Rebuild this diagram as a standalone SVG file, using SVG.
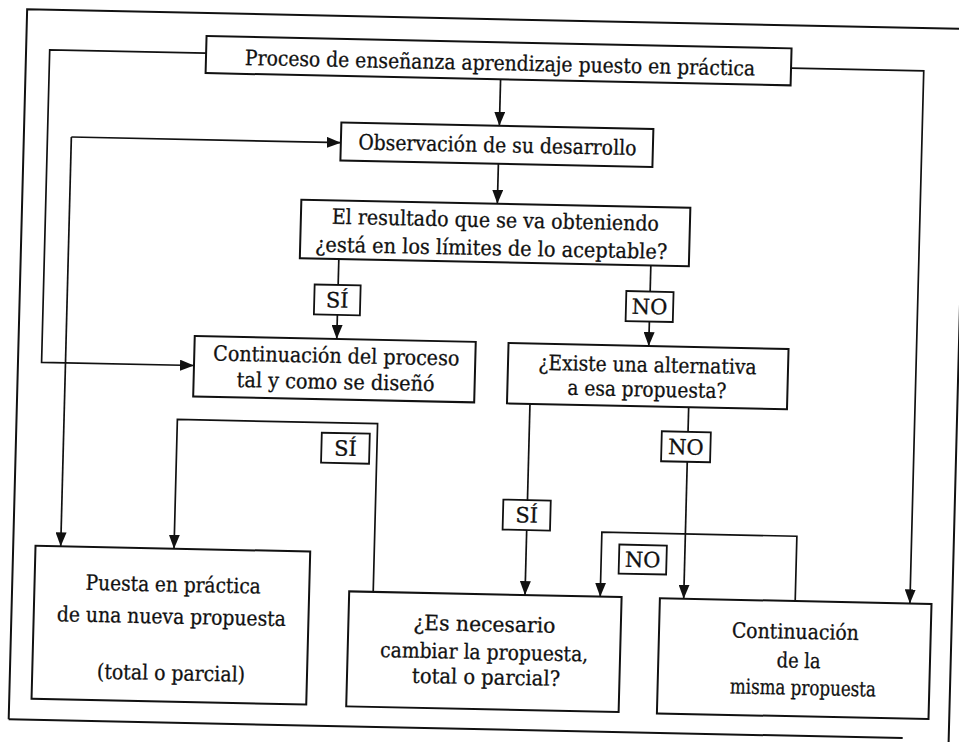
<svg xmlns="http://www.w3.org/2000/svg" width="959" height="742" viewBox="0 0 959 742">
<style>
.box{fill:#fff;stroke:#111;stroke-width:2}
.lab{fill:#fff;stroke:#111;stroke-width:1.8}
.ln{fill:none;stroke:#111;stroke-width:1.7}
.fr{fill:none;stroke:#111;stroke-width:2}
text{font-family:"DejaVu Serif","Liberation Serif",serif;font-size:21px;fill:#111;stroke:#111;stroke-width:0.3;text-anchor:middle}
</style>
<defs>
<marker id="ah" markerUnits="userSpaceOnUse" markerWidth="14" markerHeight="11" refX="14" refY="5.5" orient="auto">
<path d="M0,0 L14,5.5 L0,11 Z" fill="#111"/>
</marker>
</defs>
<rect width="959" height="742" fill="#fff"/>
<g transform="matrix(1,0.021,-0.026,1,9.646,-10.08)">
<g id="frame">
<path class="fr" d="M18,729 V19 H958 V760"/>
<path class="fr" d="M18,729 H912"/>
</g>
<g id="connectors">
<path class="ln" d="M493,79 V125.5" marker-end="url(#ah)"/>
<path class="ln" d="M493,163.5 V203.5" marker-end="url(#ah)"/>
<path class="ln" d="M336,262 V288"/>
<path class="ln" d="M336,318 V342" marker-end="url(#ah)"/>
<path class="ln" d="M648,262 V288"/>
<path class="ln" d="M648,318 V342.5" marker-end="url(#ah)"/>
<path class="ln" d="M530.8,402.8 V499"/>
<path class="ln" d="M530.8,529 V594" marker-end="url(#ah)"/>
<path class="ln" d="M689.5,402.8 V427.4"/>
<path class="ln" d="M689.5,457.4 V594.3" marker-end="url(#ah)"/>
<path class="ln" d="M198,59 H41.6 V371.5 H194" marker-end="url(#ah)"/>
<path class="ln" d="M65.5,145.7 H335" marker-end="url(#ah)"/>
<path class="ln" d="M65.5,145.7 V555" marker-end="url(#ah)"/>
<path class="ln" d="M783,61.7 H915.7 V594.3" marker-end="url(#ah)"/>
<path class="ln" d="M379,594 V425.8 H178.8 V555" marker-end="url(#ah)"/>
<path class="ln" d="M801,594.3 V529.5 H606 V594" marker-end="url(#ah)"/>
</g>
<g id="n1">
<rect class="box" x="198" y="42" width="585" height="37"/>
<text x="492" y="70" textLength="510" lengthAdjust="spacingAndGlyphs">Proceso de enseñanza aprendizaje puesto en práctica</text>
</g>
<g id="n2">
<rect class="box" x="335" y="125.5" width="312" height="38"/>
<text x="491.5" y="152" textLength="278" lengthAdjust="spacingAndGlyphs">Observación de su desarrollo</text>
</g>
<g id="n3">
<rect class="box" x="297" y="203.5" width="389" height="58.5"/>
<text x="491.5" y="227" textLength="327" lengthAdjust="spacingAndGlyphs">El resultado que se va obteniendo</text>
<text x="488" y="255" textLength="352" lengthAdjust="spacingAndGlyphs">¿está en los límites de lo aceptable?</text>
</g>
<g id="n4">
<rect class="box" x="194" y="342" width="281" height="60.5"/>
<text x="336" y="366" textLength="246" lengthAdjust="spacingAndGlyphs">Continuación del proceso</text>
<text x="336" y="392" textLength="198" lengthAdjust="spacingAndGlyphs">tal y como se diseñó</text>
</g>
<g id="n5">
<rect class="box" x="507.8" y="342.5" width="280" height="60.3"/>
<text x="647.3" y="368.5" textLength="218" lengthAdjust="spacingAndGlyphs">¿Existe una alternativa</text>
<text x="647.3" y="393" textLength="159" lengthAdjust="spacingAndGlyphs">a esa propuesta?</text>
</g>
<g id="n6">
<rect class="box" x="40.3" y="555" width="274.7" height="153"/>
<text x="179" y="598" textLength="175" lengthAdjust="spacingAndGlyphs">Puesta en práctica</text>
<text x="178" y="630" textLength="229" lengthAdjust="spacingAndGlyphs">de una nueva propuesta</text>
<text x="179" y="686.5" textLength="148" lengthAdjust="spacingAndGlyphs">(total o parcial)</text>
</g>
<g id="n7">
<rect class="box" x="355" y="594" width="272.4" height="115"/>
<text x="491" y="631" textLength="142" lengthAdjust="spacingAndGlyphs">¿Es necesario</text>
<text x="491.5" y="659" textLength="208" lengthAdjust="spacingAndGlyphs">cambiar la propuesta,</text>
<text x="494" y="684" textLength="148" lengthAdjust="spacingAndGlyphs">total o parcial?</text>
</g>
<g id="n8">
<rect class="box" x="665.7" y="594.3" width="271.6" height="115.2"/>
<text x="802" y="632" textLength="127" lengthAdjust="spacingAndGlyphs">Continuación</text>
<text x="806" y="661" textLength="44" lengthAdjust="spacingAndGlyphs">de la</text>
<text x="811" y="688" textLength="146" lengthAdjust="spacingAndGlyphs">misma propuesta</text>
</g>
<g id="l1">
<rect class="lab" x="312.5" y="288" width="46" height="30"/>
<text x="335.5" y="310.5">SÍ</text>
</g>
<g id="l2">
<rect class="lab" x="624.2" y="288" width="47.2" height="30"/>
<text x="647.8" y="310.5">NO</text>
</g>
<g id="l3">
<rect class="lab" x="323.5" y="436" width="48" height="30"/>
<text x="347.5" y="458.5">SÍ</text>
</g>
<g id="l4">
<rect class="lab" x="506.7" y="499" width="47.4" height="30"/>
<text x="530.4" y="521.5">SÍ</text>
</g>
<g id="l5">
<rect class="lab" x="663.3" y="427.4" width="49" height="30"/>
<text x="687.8" y="450">NO</text>
</g>
<g id="l6">
<rect class="lab" x="623.8" y="541.5" width="47.5" height="29"/>
<text x="647.5" y="563.5">NO</text>
</g>
</g>
</svg>
